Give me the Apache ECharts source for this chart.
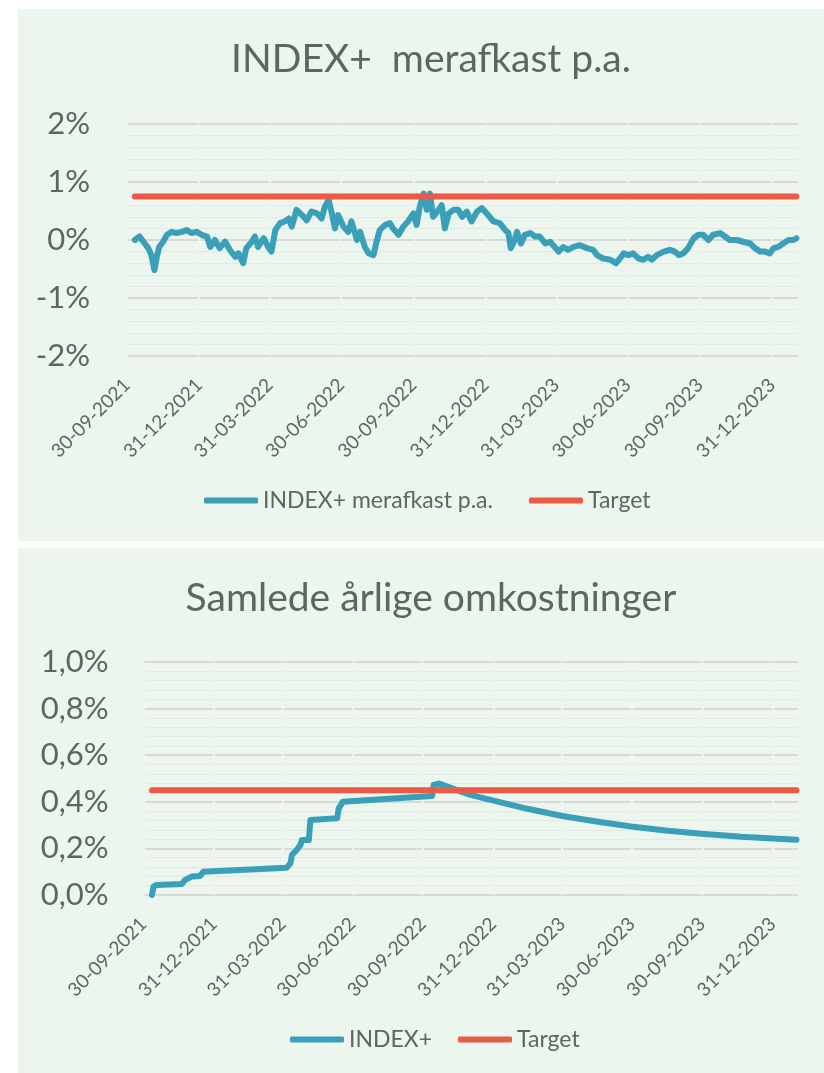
<!DOCTYPE html>
<html>
<head>
<meta charset="utf-8">
<script src="https://cdn.jsdelivr.net/npm/echarts@6/dist/echarts.min.js"></script>
<style>
  html, body { margin: 0; padding: 0; background: #fff; }
  .panel { position: absolute; left: 18px; width: 806px; background: #ecf5ee; }
  #top { top: 9px; height: 532px; }
  #bottom { top: 548px; height: 525px; }
</style>
</head>
<body>
<div id="top" class="panel"></div>
<div id="bottom" class="panel"></div>
<script>
// two Excel-style line charts: excess return p.a. and total annual costs, both vs target

const quarterEnds = ['2021-09-30', '2021-12-31', '2022-03-31', '2022-06-30', '2022-09-30',
  '2022-12-31', '2023-03-31', '2023-06-30', '2023-09-30', '2023-12-31']
const axisStart = '2021-09-30'
const axisEnd = '2024-02-02'

// INDEX+ merafkast p.a. (%)
const excess = [
  ['2021-10-10', 0.00], ['2021-10-16', 0.06], ['2021-10-21', -0.03], ['2021-10-27', -0.14],
  ['2021-10-31', -0.26], ['2021-11-04', -0.52], ['2021-11-07', -0.29], ['2021-11-10', -0.12],
  ['2021-11-15', -0.03], ['2021-11-20', 0.09], ['2021-11-26', 0.14], ['2021-12-02', 0.12],
  ['2021-12-09', 0.14], ['2021-12-15', 0.17], ['2021-12-21', 0.12], ['2021-12-28', 0.14],
  ['2022-01-03', 0.09], ['2022-01-10', 0.06], ['2022-01-14', -0.12], ['2022-01-20', 0.00],
  ['2022-01-26', -0.14], ['2022-02-02', -0.03], ['2022-02-08', -0.17], ['2022-02-15', -0.29],
  ['2022-02-19', -0.23], ['2022-02-25', -0.40], ['2022-03-01', -0.14], ['2022-03-08', -0.03],
  ['2022-03-12', 0.06], ['2022-03-16', -0.12], ['2022-03-23', 0.03], ['2022-03-29', -0.12],
  ['2022-04-02', -0.20], ['2022-04-07', 0.17], ['2022-04-13', 0.29], ['2022-04-19', 0.32],
  ['2022-04-24', 0.37], ['2022-04-28', 0.23], ['2022-05-04', 0.52], ['2022-05-11', 0.43],
  ['2022-05-17', 0.34], ['2022-05-23', 0.49], ['2022-05-30', 0.46], ['2022-06-05', 0.37],
  ['2022-06-09', 0.57], ['2022-06-14', 0.69], ['2022-06-18', 0.46], ['2022-06-22', 0.20],
  ['2022-06-26', 0.43], ['2022-07-03', 0.23], ['2022-07-09', 0.14], ['2022-07-13', 0.32],
  ['2022-07-20', 0.00], ['2022-07-24', 0.14], ['2022-07-30', -0.12], ['2022-08-04', -0.23],
  ['2022-08-10', -0.26], ['2022-08-14', -0.03], ['2022-08-18', 0.17], ['2022-08-25', 0.26],
  ['2022-08-31', 0.29], ['2022-09-04', 0.20], ['2022-09-11', 0.09], ['2022-09-17', 0.23],
  ['2022-09-23', 0.32], ['2022-09-30', 0.46], ['2022-10-04', 0.26], ['2022-10-08', 0.57],
  ['2022-10-13', 0.80], ['2022-10-17', 0.52], ['2022-10-21', 0.80], ['2022-10-25', 0.40],
  ['2022-11-01', 0.52], ['2022-11-05', 0.60], ['2022-11-09', 0.20], ['2022-11-14', 0.46],
  ['2022-11-20', 0.52], ['2022-11-26', 0.52], ['2022-12-01', 0.40], ['2022-12-07', 0.49],
  ['2022-12-13', 0.32], ['2022-12-20', 0.49], ['2022-12-26', 0.55],
  ['2023-01-03', 0.43], ['2023-01-10', 0.32], ['2023-01-18', 0.29], ['2023-01-25', 0.17],
  ['2023-01-29', 0.12], ['2023-02-01', -0.14], ['2023-02-05', -0.03], ['2023-02-09', 0.14],
  ['2023-02-14', -0.06], ['2023-02-19', 0.09], ['2023-02-26', 0.12], ['2023-03-04', 0.06],
  ['2023-03-10', 0.06], ['2023-03-17', -0.06], ['2023-03-23', -0.03], ['2023-03-29', -0.12],
  ['2023-04-03', -0.20], ['2023-04-09', -0.12], ['2023-04-15', -0.17], ['2023-04-22', -0.12],
  ['2023-04-30', -0.09], ['2023-05-09', -0.14], ['2023-05-17', -0.17], ['2023-05-22', -0.26],
  ['2023-05-30', -0.32], ['2023-06-08', -0.34], ['2023-06-15', -0.40], ['2023-06-20', -0.32],
  ['2023-06-25', -0.23], ['2023-07-01', -0.26], ['2023-07-07', -0.23], ['2023-07-14', -0.32],
  ['2023-07-20', -0.34], ['2023-07-26', -0.29], ['2023-07-31', -0.34], ['2023-08-06', -0.26],
  ['2023-08-15', -0.20], ['2023-08-23', -0.17], ['2023-08-29', -0.20], ['2023-09-03', -0.26],
  ['2023-09-09', -0.23], ['2023-09-15', -0.14], ['2023-09-22', 0.03], ['2023-09-28', 0.09],
  ['2023-10-04', 0.09], ['2023-10-11', 0.00], ['2023-10-17', 0.09], ['2023-10-26', 0.12],
  ['2023-11-01', 0.06], ['2023-11-07', 0.00], ['2023-11-16', 0.00], ['2023-11-24', -0.03],
  ['2023-12-03', -0.06], ['2023-12-09', -0.14], ['2023-12-16', -0.20], ['2023-12-22', -0.20],
  ['2023-12-28', -0.23], ['2024-01-02', -0.14], ['2024-01-08', -0.12], ['2024-01-14', -0.06],
  ['2024-01-21', 0.00], ['2024-01-27', 0.00], ['2024-01-31', 0.03]
]
const excessTarget = [['2021-10-10', 0.75], ['2024-01-31', 0.75]]

// Samlede årlige omkostninger (%)
const costs = [
  ['2021-10-11', 0.000], ['2021-10-13', 0.036], ['2021-10-17', 0.043], ['2021-11-19', 0.047],
  ['2021-11-23', 0.064], ['2021-12-02', 0.079], ['2021-12-13', 0.082], ['2021-12-17', 0.100],
  ['2022-04-05', 0.117], ['2022-04-10', 0.136], ['2022-04-12', 0.172], ['2022-04-18', 0.193],
  ['2022-04-23', 0.215], ['2022-04-25', 0.236], ['2022-05-04', 0.236], ['2022-05-06', 0.322],
  ['2022-06-10', 0.329], ['2022-06-12', 0.372], ['2022-06-15', 0.386], ['2022-06-17', 0.400],
  ['2022-10-12', 0.425], ['2022-10-14', 0.472], ['2022-10-21', 0.478], ['2022-12-01', 0.430],
  ['2023-01-15', 0.393], ['2023-02-12', 0.371], ['2023-03-31', 0.339], ['2023-05-19', 0.313],
  ['2023-06-29', 0.294], ['2023-08-16', 0.276], ['2023-10-03', 0.262], ['2023-11-20', 0.250],
  ['2024-01-01', 0.243], ['2024-01-31', 0.237]
]
const costsTarget = [['2021-10-11', 0.45], ['2024-01-31', 0.45]]

const BG = '#ecf5ee'
const BLUE = '#3a9fb9'
const RED = '#ec5945'
const TXT = '#5c6760'
const FONT = 'Lato'

const ts = s => echarts.time.parse(s).getTime()
const pts = arr => arr.map(([d, v]) => [ts(d), v])
const pad = n => (n < 10 ? '0' : '') + n
function dmy(v) {
  const d = new Date(v)
  return pad(d.getDate()) + '-' + pad(d.getMonth() + 1) + '-' + d.getFullYear()
}

function lineSeries(name, data, color, width) {
  return {
    name, type: 'line', data: pts(data), symbol: 'none', animation: false,
    lineStyle: { color, width, cap: 'round', join: 'round' },
    itemStyle: { color },
  }
}

function build(cfg) {
  const ticks = quarterEnds.map(ts)
  return {
    backgroundColor: 'transparent',
    textStyle: { fontFamily: FONT },
    title: {
      text: cfg.title, left: 413, top: 31, padding: 0, textAlign: 'center',
      textStyle: { fontFamily: FONT, fontSize: 39, fontWeight: 'normal', color: TXT },
    },
    legend: {
      left: cfg.legendLeft, top: 480, padding: 0, itemWidth: 54, itemHeight: 6,
      itemGap: cfg.legendGap, icon: 'roundRect',
      textStyle: { fontFamily: FONT, fontSize: 23, color: TXT },
      data: [cfg.names[0], cfg.names[1]],
    },
    grid: cfg.grid,
    // dates as plain timestamps on a value axis so the quarter-end ticks can be pinned
    xAxis: {
      type: 'value', min: ts(axisStart), max: ts(axisEnd), z: 1,
      axisLine: { show: false },
      axisTick: { show: false, customValues: ticks },
      splitLine: { show: true, lineStyle: { color: BG, width: 2 } },
      axisLabel: {
        customValues: ticks, rotate: 45, margin: 26, color: TXT,
        fontFamily: FONT, fontSize: 19, formatter: dmy,
      },
    },
    yAxis: {
      type: 'value', min: cfg.yMin, max: cfg.yMax, interval: cfg.yStep,
      axisLine: { show: false }, axisTick: { show: false },
      splitLine: { lineStyle: { color: '#d9d9d9', width: 2 } },
      minorTick: { show: false, splitNumber: 5 },
      minorSplitLine: { show: true, lineStyle: { color: '#e3e9e4', width: 1 } },
      axisLabel: { color: TXT, fontFamily: FONT, fontSize: 31, margin: cfg.yMargin, formatter: cfg.yFmt },
    },
    series: [
      lineSeries(cfg.names[0], cfg.main, BLUE, 6),
      lineSeries(cfg.names[1], cfg.target, RED, 6),
    ],
  }
}

const topChart = echarts.init(document.getElementById('top'))
topChart.setOption(build({
  title: 'INDEX+  merafkast p.a.',
  names: ['INDEX+ merafkast p.a.', 'Target'],
  main: excess, target: excessTarget,
  grid: { left: 109, right: 26, top: 115, bottom: 185 },
  yMin: -2, yMax: 2, yStep: 1, yMargin: 37,
  yFmt: v => v + '%',
  legendLeft: 186, legendGap: 36,
}))

const bottomChart = echarts.init(document.getElementById('bottom'))
bottomChart.setOption(build({
  title: 'Samlede årlige omkostninger',
  names: ['INDEX+', 'Target'],
  main: costs, target: costsTarget,
  grid: { left: 125.5, right: 26, top: 114, bottom: 178 },
  yMin: 0, yMax: 1, yStep: 0.2, yMargin: 35,
  yFmt: v => v.toFixed(1).replace('.', ',') + '%',
  legendLeft: 272, legendGap: 26,
}))
</script>
</body>
</html>
